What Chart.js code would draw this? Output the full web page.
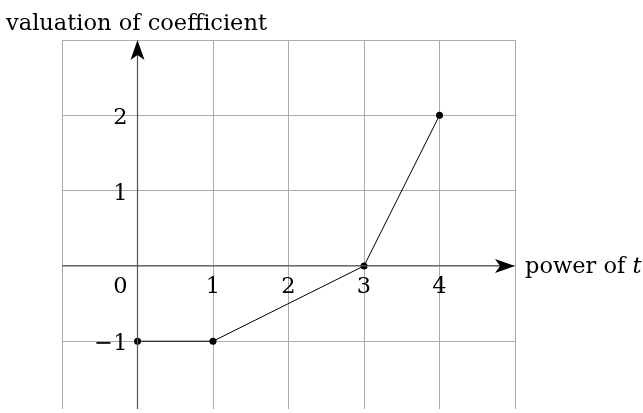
<!DOCTYPE html>
<html>
<head>
<meta charset="utf-8">
<script src="https://cdn.jsdelivr.net/npm/chart.js@4"></script>
<style>
  html, body { margin: 0; padding: 0; background: #fff; }
  canvas { display: block; }
</style>
</head>
<body>
<canvas id="newtonChart" width="643" height="413"></canvas>
<script>
// Newton polygon vertices: power of t vs valuation of coefficient
var powers = [0, 1, 3, 4];
var valuations = [-1, -1, 0, 2];

// tick labels drawn next to the axes
var xTickValues = [1, 2, 3, 4];
var xTickLabels = ['1', '2', '3', '4'];
var yTickValues = [2, 1, -1];
var yTickLabels = ['2', '1', '\u22121'];
var originLabel = '0';

// grid lines
var xGrid = [-1, 0, 1, 2, 3, 4, 5];
var yGrid = [-1, 0, 1, 2, 3];

var serif = '"DejaVu Serif", "Liberation Serif", serif';
var fontSize = 22.5;
var gridColor = '#ababab';

function arrowHead(ctx, x, y, angle) {
    // stealth style arrow, tip at (x, y)
    ctx.save();
    ctx.translate(x, y);
    ctx.rotate(angle);
    ctx.beginPath();
    ctx.moveTo(0, 0);
    ctx.lineTo(-20, -7);
    ctx.lineTo(-15, 0);
    ctx.lineTo(-20, 7);
    ctx.closePath();
    ctx.fillStyle = '#000';
    ctx.fill();
    ctx.restore();
}

var axesPlugin = {
    id: 'axesPlugin',
    afterDraw: function (chart) {
        var ctx = chart.ctx;
        var xs = chart.scales.x, ys = chart.scales.y;
        var area = chart.chartArea;
        var x0 = xs.getPixelForValue(0);
        var y0 = ys.getPixelForValue(0);

        ctx.save();
        // axis lines
        ctx.strokeStyle = '#555';
        ctx.lineWidth = 1.2;
        ctx.beginPath();
        ctx.moveTo(area.left, y0);
        ctx.lineTo(area.right - 8, y0);
        ctx.moveTo(x0, area.bottom);
        ctx.lineTo(x0, area.top + 8);
        ctx.stroke();
        arrowHead(ctx, area.right, y0, 0);
        arrowHead(ctx, x0, area.top, -Math.PI / 2);

        // tick labels
        ctx.fillStyle = '#000';
        ctx.font = fontSize + 'px ' + serif;
        ctx.textBaseline = 'alphabetic';
        ctx.textAlign = 'center';
        xTickValues.forEach(function (v, i) {
            ctx.fillText(xTickLabels[i], xs.getPixelForValue(v), y0 + 27);
        });
        ctx.textAlign = 'right';
        yTickValues.forEach(function (v, i) {
            ctx.fillText(yTickLabels[i], x0 - 10, ys.getPixelForValue(v) + 9);
        });
        ctx.fillText(originLabel, x0 - 10, y0 + 27);

        // axis titles
        ctx.textAlign = 'left';
        ctx.fillText('valuation of coefficient', 6, 30);
        var px = area.right + 10;
        ctx.fillText('power of ', px, y0 + 7);
        var w = ctx.measureText('power of ').width;
        ctx.font = 'italic ' + fontSize + 'px ' + serif;
        ctx.fillText('t', px + w, y0 + 7);
        ctx.restore();
    }
};

var ctx = document.getElementById('newtonChart').getContext('2d');
var newtonChart = new Chart(ctx, {
    type: 'scatter',
    data: {
        datasets: [{
            data: powers.map(function (p, i) { return { x: p, y: valuations[i] }; }),
            showLine: true,
            borderColor: '#000',
            borderWidth: 1,
            pointRadius: 3.5,
            pointBackgroundColor: '#000',
            pointBorderColor: '#000',
            pointBorderWidth: 0
        }]
    },
    options: {
        responsive: false,
        animation: false,
        devicePixelRatio: 1,
        layout: { padding: { left: 62, right: 128, top: 40, bottom: 3 } },
        plugins: { legend: { display: false }, tooltip: { enabled: false } },
        scales: {
            x: {
                type: 'linear',
                min: -1,
                max: 5,
                afterBuildTicks: function (scale) {
                    scale.ticks = xGrid.map(function (v) { return { value: v }; });
                },
                ticks: { display: false },
                grid: { color: gridColor, lineWidth: 1, drawTicks: false },
                border: { display: false }
            },
            y: {
                type: 'linear',
                min: -1.9,
                max: 3,
                afterBuildTicks: function (scale) {
                    scale.ticks = yGrid.map(function (v) { return { value: v }; });
                },
                ticks: { display: false },
                grid: { color: gridColor, lineWidth: 1, drawTicks: false },
                border: { display: false }
            }
        }
    },
    plugins: [axesPlugin]
});
</script>
</body>
</html>
